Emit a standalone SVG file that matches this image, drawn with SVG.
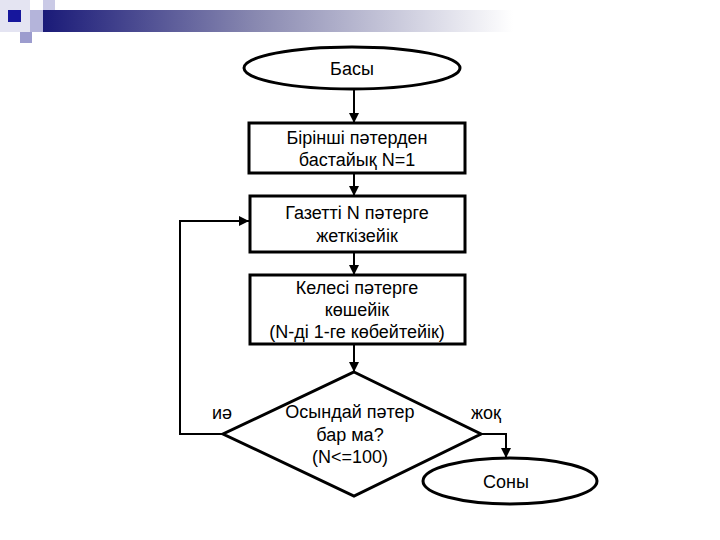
<svg xmlns="http://www.w3.org/2000/svg" width="720" height="540" viewBox="0 0 720 540">
<defs>
<linearGradient id="bar" x1="0" y1="0" x2="1" y2="0">
<stop offset="0" stop-color="#1a1a78"/>
<stop offset="0.45" stop-color="#8888b0"/>
<stop offset="1" stop-color="#ffffff"/>
</linearGradient>
<marker id="arr" viewBox="0 0 10 10" refX="10" refY="5" markerWidth="5" markerHeight="5" orient="auto">
<path d="M0,0 L10,5 L0,10 z" fill="#000"/>
</marker>
<style>
.sh{fill:#fff;stroke:#000;stroke-width:3}
.t{font-family:"Liberation Sans",Arial,sans-serif;font-size:18px;fill:#000;text-anchor:middle}
.c{fill:none;stroke:#000;stroke-width:2}
</style>
</defs>
<rect width="720" height="540" fill="#fff"/>
<g id="header">
<rect x="0" y="0" width="30" height="32" fill="#e4e4f2"/>
<rect x="43" y="10" width="470" height="22" fill="url(#bar)"/>
<rect x="30" y="10" width="13" height="22" fill="#b4b4da"/>
<rect x="43" y="0" width="12" height="10" fill="#cacae6"/>
<rect x="20" y="32" width="12" height="11" fill="#9c9cce"/>
<rect x="8" y="10" width="13" height="12" fill="#16169c"/>
</g>
<g id="connectors">
<line class="c" x1="354" y1="90" x2="354" y2="123" marker-end="url(#arr)"/>
<line class="c" x1="354" y1="173" x2="354" y2="196" marker-end="url(#arr)"/>
<line class="c" x1="354" y1="252" x2="354" y2="275" marker-end="url(#arr)"/>
<line class="c" x1="354" y1="344" x2="354" y2="372" marker-end="url(#arr)"/>
<polyline class="c" points="223,434 180,434 180,221 249,221" marker-end="url(#arr)"/>
<polyline class="c" points="481,434 506,434 506,458" marker-end="url(#arr)"/>
</g>
<g id="start">
<ellipse class="sh" cx="352" cy="68" rx="108" ry="21"/>
<text class="t" x="352" y="75">Басы</text>
</g>
<g id="box1">
<rect class="sh" x="249" y="123" width="216" height="50"/>
<text class="t" x="357" y="144">Бірінші пәтерден</text>
<text class="t" x="357" y="166">бастайық N=1</text>
</g>
<g id="box2">
<rect class="sh" x="250" y="196" width="215" height="56"/>
<text class="t" x="357" y="219">Газетті N пәтерге</text>
<text class="t" x="357" y="242">жеткізейік</text>
</g>
<g id="box3">
<rect class="sh" x="250" y="275" width="215" height="69"/>
<text class="t" x="357" y="294">Келесі пәтерге</text>
<text class="t" x="357" y="316">көшейік</text>
<text class="t" x="357" y="338">(N-ді 1-ге көбейтейік)</text>
</g>
<g id="decision">
<polygon class="sh" points="354,372 481,434 354,496 223,434"/>
<text class="t" x="350" y="418">Осындай пәтер</text>
<text class="t" x="350" y="441">бар ма?</text>
<text class="t" x="350" y="463">(N&lt;=100)</text>
</g>
<g id="labels">
<text class="t" x="222" y="419">иә</text>
<text class="t" x="486" y="419">жоқ</text>
</g>
<g id="end">
<ellipse class="sh" cx="510" cy="481" rx="87" ry="23"/>
<text class="t" x="506" y="488">Соны</text>
</g>
</svg>
